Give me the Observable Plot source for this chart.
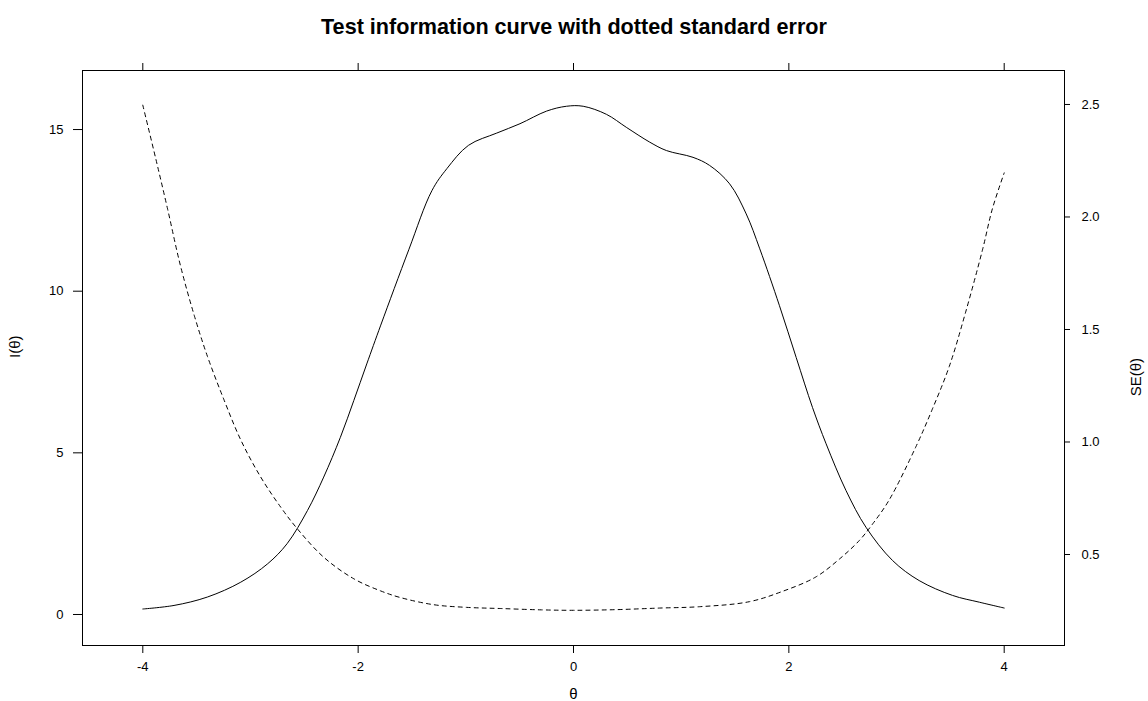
<!DOCTYPE html>
<html>
<head>
<meta charset="utf-8">
<script src="https://cdn.jsdelivr.net/npm/d3@7"></script>
<script src="https://cdn.jsdelivr.net/npm/@observablehq/plot@0.6"></script>
<style>
  html, body { margin: 0; padding: 0; background: #fff; }
  #title { width: 1148px; height: 50px; box-sizing: border-box; padding-top: 15px; text-align: center;
           font: bold 21.6px "Liberation Sans", Arial, sans-serif; line-height: 24px; color: #000; white-space: nowrap; }
</style>
</head>
<body>
<div id="title">Test information curve with dotted standard error</div>
<div id="chart"></div>
<script>
// Test information I(theta)
const thetaI = [-4, -3.71, -3.40, -3.09, -2.84, -2.66, -2.47, -2.32, -2.165, -2.04, -1.92, -1.79, -1.53, -1.315, -1.176, -0.976, -0.713, -0.497, -0.25, -0.065, 0.09, 0.306, 0.49, 0.708, 0.863, 1.11, 1.264, 1.45, 1.604, 1.73, 1.913, 2.068, 2.22, 2.346, 2.53, 2.716, 2.963, 3.21, 3.52, 3.77, 4];
const infoI = [0.17, 0.28, 0.54, 1.0, 1.57, 2.19, 3.22, 4.25, 5.48, 6.62, 7.75, 8.95, 11.28, 13.11, 13.79, 14.51, 14.89, 15.18, 15.57, 15.72, 15.72, 15.47, 15.07, 14.61, 14.35, 14.14, 13.89, 13.32, 12.39, 11.31, 9.55, 7.95, 6.4, 5.28, 3.84, 2.70, 1.67, 1.05, 0.59, 0.38, 0.20];

// Standard error SE(theta)
const thetaSE = [-4, -3.88, -3.77, -3.65, -3.52, -3.40, -3.246, -3.09, -2.906, -2.72, -2.566, -2.32, -2.04, -1.79, -1.61, -1.30, -0.99, -0.68, -0.3, 0, 0.4, 0.8, 1.17, 1.63, 1.94, 2.25, 2.47, 2.655, 2.78, 2.93, 3.18, 3.33, 3.49, 3.64, 3.80, 3.89, 4];
const seVals = [2.497, 2.26, 2.036, 1.783, 1.559, 1.381, 1.1875, 1.009, 0.845, 0.711, 0.615, 0.488, 0.392, 0.338, 0.309, 0.277, 0.265, 0.26, 0.254, 0.252, 0.255, 0.262, 0.268, 0.29, 0.336, 0.40, 0.48, 0.5625, 0.637, 0.741, 0.979, 1.143, 1.336, 1.574, 1.857, 2.036, 2.196];

// Tick values
const xTicks = [-4, -2, 0, 2, 4];
const iTicks = [0, 5, 10, 15];
const seTicks = [0.5, 1.0, 1.5, 2.0, 2.5];

// Scale domains (left axis I, right axis SE share the same vertical extent)
const xDomain = [-4.56, 4.56];
const iDomain = [-0.959, 16.826];
const seDomain = [0.0956, 2.651];

const toI = se => iDomain[0] + (se - seDomain[0]) / (seDomain[1] - seDomain[0]) * (iDomain[1] - iDomain[0]);
const fromI = v => seDomain[0] + (v - iDomain[0]) / (iDomain[1] - iDomain[0]) * (seDomain[1] - seDomain[0]);

const infoData = thetaI.map((t, i) => ({theta: t, info: infoI[i]}));
const seData = thetaSE.map((t, i) => ({theta: t, se: seVals[i]}));

const chart = Plot.plot({
  width: 1148,
  height: 651,
  marginTop: 20,
  marginBottom: 56,
  marginLeft: 82,
  marginRight: 84,
  x: {domain: xDomain},
  y: {domain: iDomain},
  style: {fontFamily: "'Liberation Sans', Arial, sans-serif", fontSize: "13px", color: "#000", background: "#fff", overflow: "visible"},
  marks: [
    Plot.axisX({anchor: "bottom", ticks: xTicks, tickSize: 8, tickPadding: 8, tickFormat: d => String(d), label: null}),
    Plot.axisX({anchor: "top", ticks: xTicks, tickSize: 8, tickFormat: () => "", label: null}),
    Plot.axisY({anchor: "left", ticks: iTicks, tickSize: 9, tickPadding: 10, tickFormat: d => String(d), label: null}),
    Plot.axisY({anchor: "right", ticks: seTicks.map(toI), tickSize: 5, tickPadding: 12, tickFormat: v => fromI(v).toFixed(1), label: null}),
    Plot.frame({stroke: "#000", strokeWidth: 1}),
    Plot.line(infoData, {x: "theta", y: "info", stroke: "#000", strokeWidth: 1, curve: "catmull-rom"}),
    Plot.line(seData, {x: "theta", y: d => toI(d.se), stroke: "#000", strokeWidth: 1, strokeDasharray: "4,4", curve: "catmull-rom"}),
    Plot.text(["θ"], {frameAnchor: "bottom", dy: 53, fontSize: 15}),
    Plot.text(["I(θ)"], {frameAnchor: "left", dx: -67, rotate: -90, fontSize: 15}),
    Plot.text(["SE(θ)"], {frameAnchor: "right", dx: 72, rotate: -90, fontSize: 15})
  ]
});
document.getElementById("chart").appendChild(chart);
</script>
</body>
</html>
